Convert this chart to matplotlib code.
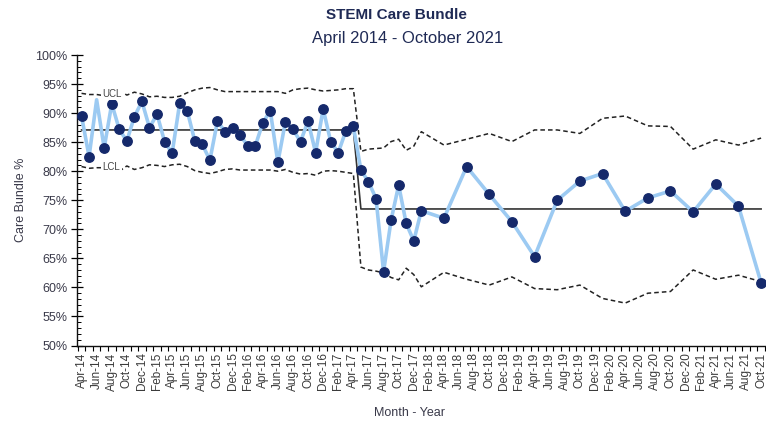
import numpy as np
import pandas as pd
import matplotlib
matplotlib.use('Agg')
import matplotlib.pyplot as plt
from matplotlib.ticker import FixedLocator, FuncFormatter

plt.rcParams['font.family'] = ['Liberation Sans', 'DejaVu Sans']

# data months: monthly to Jan-18, then quarterly
months_p1 = pd.date_range('2014-04-01', '2017-04-01', freq='MS')
months_p2 = pd.date_range('2017-05-01', '2018-01-01', freq='MS').append(
    pd.date_range('2018-04-01', '2021-10-01', freq='3MS'))

bundle_p1 = [89.5, 82.5, 92.3, 84.0, 91.6, 87.2, 85.2, 89.4, 92.0, 87.5,
             89.8, 85.1, 83.1, 91.7, 90.4, 85.2, 84.6, 81.9, 88.6, 86.8,
             87.5, 86.2, 84.4, 84.3, 88.3, 90.4, 81.5, 88.5, 87.2, 85.1,
             88.6, 83.2, 90.7, 85.1, 83.2, 86.9, 87.7]
bundle_p2 = [80.2, 78.2, 75.3, 62.7, 71.6, 77.6, 71.0, 68.0, 73.2,
             71.9, 80.8, 76.0, 71.3, 65.3, 75.0, 78.3, 79.6, 73.1, 75.4,
             76.6, 73.0, 77.8, 74.0, 60.8]

cl_p1 = 87.1
cl_p2 = 73.5

ucl_p1 = [93.4, 93.2, 93.2, 93.0, 93.5, 93.9, 93.1, 93.6, 93.3, 92.8,
          92.9, 92.7, 92.7, 92.9, 93.5, 94.0, 94.3, 94.4, 94.0, 93.7,
          93.7, 93.7, 93.7, 93.7, 93.7, 93.7, 93.7, 93.4, 94.0, 94.2,
          94.3, 94.0, 93.8, 93.9, 94.0, 94.2, 94.2]
lcl_p1 = [80.8, 80.5, 80.6, 80.6, 80.3, 80.0, 80.9, 80.3, 80.6, 81.1,
          81.0, 80.8, 81.1, 81.2, 80.8, 80.1, 79.8, 79.6, 79.9, 80.3,
          80.4, 80.2, 80.2, 80.2, 80.2, 80.2, 80.0, 80.3, 79.8, 79.5,
          79.6, 79.3, 80.0, 80.1, 80.0, 79.8, 79.6]
ucl_p2 = [83.4, 83.8, 83.9, 84.0, 85.1, 85.5, 83.6, 84.3, 86.8,
          84.5, 85.5, 86.5, 85.1, 87.1, 87.1, 86.5, 89.1, 89.5, 87.8,
          87.7, 83.8, 85.4, 84.5, 85.7]
lcl_p2 = [63.5, 63.0, 62.8, 62.5, 61.7, 61.3, 63.3, 62.2, 60.1,
          62.6, 61.4, 60.4, 61.8, 59.8, 59.6, 60.4, 58.1, 57.3, 59.0,
          59.3, 63.0, 61.4, 62.1, 61.0]

axis_months = pd.date_range('2014-04-01', '2021-10-01', freq='MS')


def month_index(d):
    return (d.year - 2014) * 12 + d.month - 4


months = months_p1.append(months_p2)
x = np.array([month_index(d) for d in months])
bundle = np.array(bundle_p1 + bundle_p2)
cl = np.array([cl_p1] * len(bundle_p1) + [cl_p2] * len(bundle_p2))
ucl = np.array(ucl_p1 + ucl_p2)
lcl = np.array(lcl_p1 + lcl_p2)

fig = plt.figure(figsize=(7.66, 4.25), dpi=100)
ax = fig.add_axes([77 / 766, (425 - 345.5) / 425, (766 - 77) / 766, (345.5 - 55) / 425])

dash = dict(color='#222222', lw=1.1, linestyle=(0, (3, 2)), zorder=2)
ax.plot(x, ucl, **dash)
ax.plot(x, lcl, **dash)
ax.plot(x, cl, color='#333333', lw=1.2, zorder=3)

marks = [i for i in range(len(x)) if i != 2]
ax.plot(x, bundle, color='#9ccaf2', lw=2.6, zorder=4,
        marker='o', markersize=6.8, markerfacecolor='#15296b',
        markeredgecolor='#15296b', markevery=marks)

lbl = dict(fontsize=7, color='#444444', ha='left', va='center', zorder=5,
           bbox=dict(facecolor='white', edgecolor='none', pad=1.0))
ax.text(2.8, 93.3, 'UCL', **lbl)
ax.text(2.8, 80.7, 'LCL', **lbl)

ax.set_xlim(-0.6, 90.65)
ax.set_ylim(50, 100)

label_idx = list(range(0, len(axis_months), 2))
ax.xaxis.set_major_locator(FixedLocator(label_idx))
ax.xaxis.set_major_formatter(FuncFormatter(
    lambda v, p: axis_months[int(round(v))].strftime('%b-%y')))
ax.xaxis.set_minor_locator(FixedLocator(np.arange(len(axis_months) + 1) - 0.5))
ax.tick_params(axis='x', which='major', length=0, pad=5, labelrotation=90,
               labelsize=8.5, labelcolor='#3a3a3a')
ax.tick_params(axis='x', which='minor', length=3.5, direction='out', width=0.8)

ax.yaxis.set_major_locator(FixedLocator(np.arange(50, 101, 5)))
ax.yaxis.set_minor_locator(FixedLocator(np.arange(50, 101, 1)))
ax.yaxis.set_major_formatter(FuncFormatter(lambda v, p: f'{v:.0f}%'))
ax.tick_params(axis='y', which='major', length=8, direction='inout', width=0.9,
               labelsize=9, labelcolor='#3a3a4a', pad=3)
ax.tick_params(axis='y', which='minor', length=3, direction='in', width=0.7)

for s in ['top', 'right']:
    ax.spines[s].set_visible(False)
for s in ['left', 'bottom']:
    ax.spines[s].set_color('#111111')
    ax.spines[s].set_linewidth(1.0)

ax.set_ylabel('Care Bundle %', fontsize=9, color='#3a3a4a', labelpad=6)
fig.text(410 / 766, 1 - 413 / 425, 'Month - Year', fontsize=9, color='#3a3a4a',
         ha='center', va='center')

fig.text(396 / 766, 1 - 15 / 425, 'STEMI Care Bundle', fontsize=11, fontweight='bold',
         color='#1f2a55', ha='center', va='center')
fig.text(408 / 766, 1 - 38 / 425, 'April 2014 - October 2021', fontsize=12,
         color='#1f2a55', ha='center', va='center')

fig.savefig('out.png', dpi=100, facecolor='white')
